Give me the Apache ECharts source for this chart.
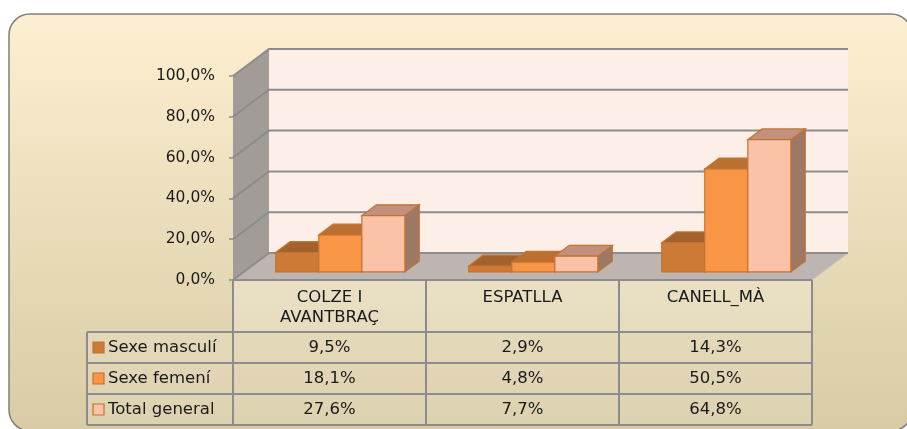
<!DOCTYPE html>
<html>
<head>
<meta charset="utf-8">
<script src="https://cdn.jsdelivr.net/npm/echarts@6/dist/echarts.min.js"></script>
<style>
html, body { margin: 0; padding: 0; background: #fff; }
#main { width: 907px; height: 429px; }
</style>
</head>
<body>
<div id="main"></div>
<script>
// dades
const categories = ['COLZE I\nAVANTBRAÇ', 'ESPATLLA', 'CANELL_MÀ'];
const seriesNames = ['Sexe masculí', 'Sexe femení', 'Total general'];
const masculi = [9.5, 2.9, 14.3];
const femeni = [18.1, 4.8, 50.5];
const totalGeneral = [27.6, 7.7, 64.8];
const yTicks = [0, 20, 40, 60, 80, 100];

const seriesValues = [masculi, femeni, totalGeneral];

// estil
const FONT = 'DejaVu Sans';
const TABLE_FONT = '16.5px "' + FONT + '"';
const DX = 36, DY = 27;      // profunditat del terra
const Z0 = 0.3, Z1 = 0.7;    // on se situen les barres dins la profunditat
const GRID_COLOR = '#8c8c8c';
const EDGE = '#c4732f';
const faces = [
  { front: '#cc7a35', top: '#a5612c', side: '#8f5428' },
  { front: '#f89646', top: '#bb7032', side: '#a8652e' },
  { front: '#fac3a8', top: '#c1917e', side: '#9e7866' }
];

function fmt(v) {
  return v.toFixed(1).replace('.', ',') + '%';
}

let myChart = echarts.init(document.getElementById('main'));

// parets i terra del grafic 3D
function renderFrame(params, api) {
  const cs = params.coordSys;
  const x = cs.x, y = cs.y, w = cs.width, h = cs.height;
  const children = [];
  children.push({
    type: 'polygon',
    shape: { points: [[x + DX, y - DY], [x + w + DX, y - DY], [x + w + DX, y + h - DY], [x + DX, y + h - DY]] },
    style: { fill: '#fdefe8' }
  });
  children.push({
    type: 'polygon',
    shape: { points: [[x, y], [x + DX, y - DY], [x + DX, y + h - DY], [x, y + h]] },
    style: { fill: '#a29c99' }
  });
  children.push({
    type: 'polygon',
    shape: { points: [[x, y + h], [x + DX, y + h - DY], [x + w + DX, y + h - DY], [x + w, y + h]] },
    style: { fill: '#bdb5b2', stroke: '#c9c2bf', lineWidth: 1 }
  });
  yTicks.forEach(function (t) {
    const py = api.coord([0, t])[1];
    children.push({
      type: 'polyline',
      shape: { points: [[x, py], [x + DX, py - DY], [x + w + DX, py - DY]] },
      style: { stroke: GRID_COLOR, lineWidth: 2, fill: null }
    });
  });
  return { type: 'group', children: children };
}

// barres 3D
function barRenderer(si) {
  return function (params, api) {
    const c = api.value(0), v = api.value(1);
    const band = api.size([1, 0])[0];
    const bw = band * 0.223;
    const p0 = api.coord([c, 0]);
    const p1 = api.coord([c, v]);
    const x0 = p0[0] - 1.5 * bw + si * bw + Z0 * DX;
    const yb = p0[1] - Z0 * DY;
    const yt = p1[1] - Z0 * DY;
    const ddx = (Z1 - Z0) * DX, ddy = (Z1 - Z0) * DY;
    const f = faces[si];
    return {
      type: 'group',
      children: [
        {
          type: 'polygon',
          shape: { points: [[x0 + bw, yt], [x0 + bw + ddx, yt - ddy], [x0 + bw + ddx, yb - ddy], [x0 + bw, yb]] },
          style: { fill: f.side, stroke: EDGE, lineWidth: 1.2 }
        },
        {
          type: 'polygon',
          shape: { points: [[x0, yt], [x0 + bw, yt], [x0 + bw + ddx, yt - ddy], [x0 + ddx, yt - ddy]] },
          style: { fill: f.top, stroke: EDGE, lineWidth: 1.2 }
        },
        {
          type: 'rect',
          shape: { x: x0, y: yt, width: bw, height: yb - yt },
          style: { fill: f.front, stroke: EDGE, lineWidth: 1.2 }
        }
      ]
    };
  };
}

// taula de dades sota el grafic
function renderTable(params, api) {
  const cs = params.coordSys;
  const left = cs.x, right = cs.x + cs.width, top = cs.y + cs.height;
  const band = api.size([1, 0])[0];
  const headH = 52, rowH = 31, keyLeft = 87;
  const bodyTop = top + headH;
  const bottom = bodyTop + rowH * seriesNames.length;
  const children = [];
  const lineStyle = { stroke: GRID_COLOR, lineWidth: 2 };

  children.push({ type: 'rect', shape: { x: left, y: top, width: right - left, height: headH },
    style: { fill: 'rgba(255,255,255,0.2)' } });
  children.push({ type: 'rect', shape: { x: keyLeft, y: bodyTop, width: right - keyLeft, height: bottom - bodyTop },
    style: { fill: 'rgba(255,255,255,0.12)' } });

  // linies horitzontals
  children.push({ type: 'line', shape: { x1: left, y1: top, x2: right, y2: top }, style: lineStyle });
  for (let r = 0; r <= seriesNames.length; r++) {
    const yy = bodyTop + r * rowH;
    children.push({ type: 'line', shape: { x1: keyLeft, y1: yy, x2: right, y2: yy }, style: lineStyle });
  }
  // linies verticals
  children.push({ type: 'line', shape: { x1: keyLeft, y1: bodyTop, x2: keyLeft, y2: bottom }, style: lineStyle });
  for (let i = 0; i <= categories.length; i++) {
    const xx = left + i * band;
    children.push({ type: 'line', shape: { x1: xx, y1: top, x2: xx, y2: bottom }, style: lineStyle });
  }

  // capcaleres
  categories.forEach(function (cat, i) {
    children.push({
      type: 'text',
      style: {
        x: api.coord([i, 0])[0], y: top + 8, text: cat,
        align: 'center', verticalAlign: 'top', lineHeight: 20,
        font: TABLE_FONT, fill: '#1a1a1a'
      }
    });
  });

  // files
  seriesNames.forEach(function (name, r) {
    const mid = bodyTop + r * rowH + rowH / 2;
    children.push({
      type: 'rect',
      shape: { x: keyLeft + 6, y: mid - 5.5, width: 11, height: 11 },
      style: { fill: faces[r].front, stroke: EDGE, lineWidth: 1.2 }
    });
    children.push({
      type: 'text',
      style: {
        x: keyLeft + 21, y: mid, text: name, align: 'left', verticalAlign: 'middle',
        font: TABLE_FONT, fill: '#1a1a1a'
      }
    });
    seriesValues[r].forEach(function (v, i) {
      children.push({
        type: 'text',
        style: {
          x: api.coord([i, 0])[0], y: mid, text: fmt(v), align: 'center', verticalAlign: 'middle',
          font: TABLE_FONT, fill: '#1a1a1a'
        }
      });
    });
  });

  return { type: 'group', children: children };
}

let option = {
  animation: false,
  backgroundColor: '#ffffff',
  graphic: [
    {
      type: 'rect',
      z: -10,
      shape: { x: 9, y: 14, width: 903, height: 417, r: 21 },
      style: {
        fill: new echarts.graphic.LinearGradient(0, 0, 0, 1, [
          { offset: 0, color: '#fdefd1' },
          { offset: 1, color: '#d8cba5' }
        ]),
        stroke: '#7f7f7f',
        lineWidth: 1.5
      }
    }
  ],
  grid: { left: 233, right: 95, top: 76, bottom: 149 },
  xAxis: {
    type: 'category',
    data: categories,
    axisLabel: { show: false },
    axisLine: { show: false },
    axisTick: { show: false }
  },
  yAxis: {
    type: 'value',
    min: yTicks[0],
    max: yTicks[yTicks.length - 1],
    interval: yTicks[1] - yTicks[0],
    splitLine: { show: false },
    axisLine: { show: true, lineStyle: { color: GRID_COLOR, width: 1 } },
    axisTick: { show: true, length: 4, lineStyle: { color: GRID_COLOR, width: 1.5 } },
    axisLabel: {
      formatter: fmt,
      margin: 18,
      color: '#1a1a1a',
      fontSize: 15.5,
      fontFamily: FONT
    }
  },
  series: [
    { name: 'frame', type: 'custom', z: 1, data: [[0, 0]], renderItem: renderFrame, silent: true },
    { name: 'taula', type: 'custom', z: 1, data: [[0, 0]], renderItem: renderTable, silent: true }
  ].concat(seriesNames.map(function (name, si) {
    return {
      name: name,
      type: 'custom',
      z: 3 + si,
      data: seriesValues[si].map(function (v, i) { return [i, v]; }),
      renderItem: barRenderer(si)
    };
  }))
};

myChart.setOption(option);
</script>
</body>
</html>
